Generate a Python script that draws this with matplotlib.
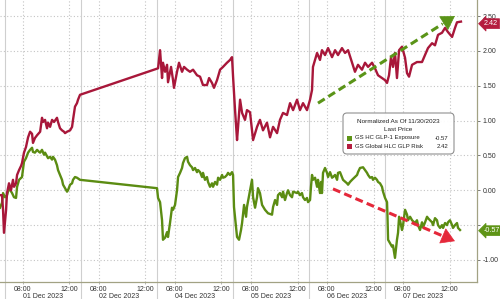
import matplotlib
matplotlib.use("Agg")
import matplotlib.pyplot as plt
from matplotlib.patches import FancyBboxPatch, Rectangle
import matplotlib.transforms as mtransforms

plt.rcParams['font.family'] = ['Liberation Sans', 'DejaVu Sans']
plt.rcParams['axes.unicode_minus'] = False

# session hours: each trading day spans 6.5 h (06:30 -> 13:00), days concatenated
day_labels = ["01 Dec 2023", "02 Dec 2023", "04 Dec 2023", "05 Dec 2023", "06 Dec 2023", "07 Dec 2023"]
hour_labels = ["08:00", "12:00"]

red_name = "GS Global HLC GLP Risk"
green_name = "GS HC GLP-1 Exposure"
red_last = 2.42
green_last = -0.57

red_t = [-0.43,-0.26,-0.17,-0.09,0.09,0.17,0.34,0.51,0.68,0.77,
         0.94,1.03,1.20,1.37,1.45,1.62,1.79,1.97,2.14,2.31,
         2.39,2.56,2.74,3.00,3.16,3.25,3.42,3.59,3.68,3.85,
         4.02,4.19,4.44,4.53,4.70,4.87,5.04,5.13,5.30,5.56,
         5.73,5.81,5.98,6.15,6.24,6.41,
         13.08,13.25,13.42,13.50,13.68,13.85,13.93,14.19,14.36,14.44,
         14.70,14.87,15.13,15.30,15.56,15.81,16.07,16.41,16.67,16.92,
         17.26,17.44,17.69,17.86,18.12,18.38,18.63,18.97,19.23,19.40,
         19.49,19.66,19.83,19.91,20.09,20.26,20.51,20.68,20.94,21.20,
         21.54,21.79,22.05,22.39,22.65,22.91,23.25,23.50,23.76,24.10,
         24.36,24.62,24.96,25.21,25.47,25.81,26.07,
         26.24,26.32,26.67,26.92,27.09,27.35,27.61,27.95,28.21,28.46,
         28.80,29.06,29.32,29.66,29.91,30.17,30.51,30.77,31.03,31.37,
         31.62,31.88,32.22,32.48,32.65,
         32.82,32.99,33.16,33.33,33.50,33.68,33.93,34.19,34.36,34.53,
         34.79,35.21,35.64,35.90,36.15,36.50,36.75,37.01,37.35,37.61,
         37.86,38.21,38.46,38.63,38.97]
red_v = [-0.07,-0.07,-0.28,-0.61,-0.28,-0.04,0.10,0.00,0.15,0.05,
         0.10,0.22,0.29,0.35,0.39,0.54,0.62,0.76,0.84,0.81,
         0.68,0.75,0.79,0.84,1.04,0.98,1.01,0.89,0.97,0.91,
         1.01,0.98,1.04,0.98,0.89,0.86,0.84,0.82,0.84,0.86,
         0.91,1.01,1.20,1.25,1.30,1.37,
         1.75,2.01,1.61,1.83,1.70,1.80,1.55,1.77,1.58,1.47,
         1.70,1.83,1.70,1.77,1.73,1.70,1.73,1.65,1.63,1.51,
         1.51,1.61,1.54,1.47,1.58,1.73,1.77,1.83,1.87,1.91,
         1.63,1.15,0.72,0.89,1.30,1.11,1.01,1.15,1.12,0.72,
         0.91,1.01,0.86,0.97,0.76,0.91,0.82,1.01,1.11,1.08,
         1.25,1.15,1.30,1.15,1.25,1.15,1.30,
         1.44,1.77,1.97,1.87,2.01,1.94,2.04,1.91,2.01,1.94,
         2.04,1.97,2.01,1.83,1.70,1.80,1.73,1.83,1.77,1.83,
         1.75,1.65,1.61,1.58,1.54,
         1.65,1.91,1.77,1.97,1.61,2.01,2.06,1.90,1.68,1.63,
         1.80,1.84,1.84,1.94,2.04,2.11,2.08,2.23,2.26,2.33,
         2.27,2.20,2.33,2.41,2.42]

green_t = [-0.43,-0.26,-0.17,0.00,0.17,0.34,0.60,0.77,0.94,1.03,
           1.20,1.45,1.62,1.79,1.97,2.14,2.31,2.39,2.56,2.74,
           2.91,3.00,3.16,3.33,3.42,3.68,3.85,4.02,4.10,4.27,
           4.44,4.53,4.70,4.87,4.96,5.13,5.30,5.38,5.56,5.73,
           5.81,5.98,6.15,6.41,
           12.99,13.08,13.25,13.42,13.50,13.68,13.85,13.93,14.10,14.27,
           14.36,14.53,14.70,14.79,14.96,15.13,15.21,15.38,15.56,15.64,
           15.81,15.98,16.07,16.24,16.41,16.50,16.67,16.84,16.92,17.09,
           17.26,17.35,17.52,17.69,17.78,17.95,18.12,18.21,18.38,18.55,
           18.63,18.80,18.97,19.06,19.23,19.40,
           19.49,19.57,19.74,19.83,20.00,20.17,20.26,20.43,20.60,20.68,
           20.94,21.11,21.20,21.37,21.54,21.62,21.79,21.97,22.22,22.48,
           22.82,22.91,23.08,23.25,23.33,23.50,23.68,23.76,23.93,24.10,
           24.19,24.36,24.53,24.62,24.96,25.04,25.21,25.38,25.47,25.64,
           25.81,25.90,26.07,
           26.15,26.24,26.32,26.50,26.67,26.75,26.92,27.01,27.09,27.18,
           27.35,27.52,27.61,27.78,27.95,28.03,28.21,28.38,28.46,28.63,
           28.80,28.89,29.23,29.32,29.49,29.66,29.91,30.09,30.17,30.34,
           30.60,30.77,30.94,31.03,31.20,31.37,31.45,31.62,31.79,31.88,
           32.05,32.22,32.31,32.48,32.65,
           32.69,32.74,32.91,33.08,33.16,33.33,33.50,33.59,33.68,33.76,
           33.93,34.02,34.19,34.36,34.44,34.62,34.79,35.04,35.21,35.30,
           35.47,35.64,35.73,35.90,36.07,36.15,36.32,36.50,36.58,36.75,
           36.92,37.01,37.18,37.35,37.44,37.61,37.78,37.86,38.03,38.21,
           38.29,38.46,38.63,38.72,38.89]
green_v = [-0.25,-0.18,-0.04,-0.10,-0.07,0.03,-0.04,-0.10,-0.11,0.05,
           0.15,0.19,0.41,0.46,0.54,0.58,0.61,0.55,0.54,0.58,
           0.55,0.54,0.58,0.51,0.54,0.46,0.48,0.44,0.48,0.44,
           0.36,0.29,0.22,0.15,0.08,0.03,-0.02,0.00,0.08,0.10,
           0.15,0.19,0.18,0.15,
           0.03,-0.11,-0.17,-0.43,-0.71,-0.68,-0.60,-0.67,-0.47,-0.25,
           -0.28,-0.21,0.00,0.19,0.25,0.32,0.39,0.46,0.48,0.41,
           0.36,0.33,0.29,0.32,0.26,0.29,0.26,0.19,0.25,0.15,
           0.19,0.12,0.05,0.10,0.05,0.12,0.08,0.18,0.15,0.22,
           0.18,0.19,0.22,0.25,0.22,0.26,
           0.22,-0.24,-0.53,-0.67,-0.71,-0.57,-0.47,-0.21,-0.38,-0.24,
           0.00,0.15,-0.10,-0.25,-0.10,0.03,-0.04,-0.21,-0.28,-0.33,
           -0.35,-0.24,-0.14,-0.21,-0.07,-0.04,-0.10,-0.02,-0.14,-0.04,
           0.00,-0.07,-0.10,-0.02,-0.04,-0.02,-0.07,-0.04,-0.10,-0.14,
           -0.11,-0.17,-0.14,
           0.05,0.22,0.15,0.18,0.05,0.15,-0.04,0.12,-0.04,0.25,
           0.32,0.25,0.19,0.26,0.18,0.19,0.22,0.15,0.25,0.26,
           0.19,0.15,0.10,0.08,0.12,0.15,0.19,0.22,0.26,0.32,
           0.33,0.29,0.25,0.22,0.18,0.19,0.15,0.18,0.15,0.12,
           0.10,0.05,-0.02,-0.11,-0.17,
           -0.38,-0.71,-0.76,-0.81,-0.79,-0.97,-0.71,-0.61,-0.38,-0.43,
           -0.57,-0.50,-0.28,-0.35,-0.43,-0.38,-0.43,-0.47,-0.43,-0.50,
           -0.57,-0.46,-0.53,-0.46,-0.38,-0.40,-0.43,-0.46,-0.50,-0.40,
           -0.43,-0.50,-0.54,-0.50,-0.54,-0.47,-0.50,-0.46,-0.43,-0.50,
           -0.54,-0.50,-0.47,-0.54,-0.57]

# trend arrows (start, end) in data coordinates
green_arrow = ((26.75, 1.25), (38.45, 2.50))
red_arrow = ((28.03, 0.02), (38.45, -0.73))

RED = "#a8173a"
GREEN = "#5b8c12"
ARROW_GREEN = "#5a9418"
ARROW_RED = "#e5283a"
GRID = "#c4c4c4"
SPINE = "#a2a284"
DAY_LEN = 6.5

W, H = 500, 299
fig = plt.figure(figsize=(W / 100, H / 100), dpi=100)
ax = fig.add_axes([0, 17 / H, 477 / W, 282 / H])
ax.set_xlim(-0.43, 40.34)
ax.set_ylim(-1.316, 2.73)

# grid
yt = [2.5, 2.0, 1.5, 1.0, 0.5, 0.0, -0.5, -1.0]
for y in yt:
    ax.axhline(y, color=GRID, lw=0.8, ls=(0, (1, 2)), zorder=0)
xt, xl = [], []
for d in range(len(day_labels)):
    for i, hl in enumerate(hour_labels):
        x = d * DAY_LEN + (1.5 if i == 0 else 5.5)
        xt.append(x)
        xl.append(hl)
        ax.axvline(x, color=GRID, lw=0.8, ls=(0, (1, 2)), zorder=0)
    ax.axvline(d * DAY_LEN, ymin=-0.06, ymax=1, color="#cfcfcf", lw=0.8,
               clip_on=False, zorder=0)

ax.plot(green_t, green_v, color=GREEN, lw=1.7, zorder=3, solid_joinstyle='round')
ax.plot(red_t, red_v, color=RED, lw=1.7, zorder=3, solid_joinstyle='round')

# dashed trend arrows
for (s, e), c in ((green_arrow, ARROW_GREEN), (red_arrow, ARROW_RED)):
    f = 0.91
    mx = s[0] + (e[0] - s[0]) * f
    my = s[1] + (e[1] - s[1]) * f
    ax.plot([s[0], mx], [s[1], my], color=c, lw=2.2, ls=(0, (2.6, 1.4)), zorder=4,
            dash_capstyle='butt')
    ax.annotate('', xy=e, xytext=(mx, my),
                arrowprops=dict(arrowstyle='-|>,head_length=0.9,head_width=0.55',
                                color=c, lw=0.5, mutation_scale=10,
                                shrinkA=0, shrinkB=0), zorder=5)

# spines / ticks
for sp in ("left", "top"):
    ax.spines[sp].set_visible(False)
for sp in ("right", "bottom"):
    ax.spines[sp].set_color(SPINE)
    ax.spines[sp].set_linewidth(0.9)
ax.yaxis.tick_right()
ax.set_yticks(yt)
# the -0.50 label sits under the last-price tag in the reference
ax.set_yticklabels(["" if v == -0.5 else f"{v:.2f}" for v in yt])
ax.tick_params(axis='y', length=2.5, width=0.6, color="#666666", pad=1.5,
               labelsize=5, labelcolor="#333333")
ax.set_xticks(xt)
ax.set_xticklabels(xl)
ax.tick_params(axis='x', length=1.5, width=0.5, color="#999999", pad=1.2,
               labelsize=5, labelcolor="#333333")

trans = mtransforms.blended_transform_factory(ax.transData, ax.transAxes)
for d, lab in enumerate(day_labels):
    ax.text(d * DAY_LEN + DAY_LEN / 2, -0.05, lab, transform=trans, ha='center',
            va='center', fontsize=5, color="#333333", clip_on=False)

# last price tags
for val, c, dy in ((red_last, "#b51d3f", -1.5), (green_last, "#5e9416", -0.5)):
    ax.annotate(f"{val:.2f}", xy=(1.0, val), xycoords=('axes fraction', 'data'),
                xytext=(5, dy), textcoords='offset points', ha='left', va='center',
                fontsize=5.2, color='white', annotation_clip=False, zorder=6,
                bbox=dict(boxstyle='larrow,pad=0.2', fc=c, ec=c, lw=0.5))

# custom legend (figure pixel layout)
def fx(px):
    return px / W
def fy(py):
    return 1 - py / H

LFS = 4.3
box = FancyBboxPatch((fx(343), fy(154)), fx(454) - fx(343), fy(113) - fy(154),
                     boxstyle="round,pad=0,rounding_size=0.008", mutation_aspect=W / H,
                     transform=fig.transFigure, fc="white", ec="#8a8a8a", lw=0.8,
                     alpha=0.95, zorder=10)
fig.add_artist(box)
fig.text(fx(398.5), fy(122), "Normalized As Of 11/30/2023", ha='center', va='center',
         fontsize=LFS + 0.3, color="#222222", zorder=11)
fig.text(fx(398.5), fy(130), "Last Price", ha='center', va='center',
         fontsize=LFS + 0.3, color="#222222", zorder=11)
rows = ((green_name, green_last, "#5e9416", 138), (red_name, red_last, "#b51d3f", 146))
for name, val, c, py in rows:
    fig.add_artist(Rectangle((fx(347), fy(py + 2.5)), 5 / W, 5 / H, transform=fig.transFigure,
                             fc=c, ec='none', zorder=11))
    fig.text(fx(355), fy(py), name, ha='left', va='center', fontsize=LFS,
             color="#222222", zorder=11)
    fig.text(fx(448), fy(py), f"{val:.2f}", ha='right', va='center', fontsize=LFS,
             color="#222222", zorder=11)

fig.savefig("out.png", dpi=100)
